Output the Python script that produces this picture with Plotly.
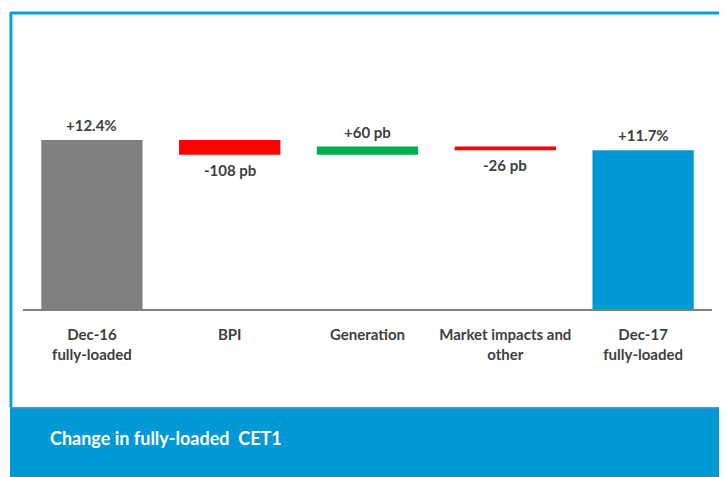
import plotly.graph_objects as go

CATEGORIES = ["Dec-16<br>fully-loaded", "BPI", "Generation", "Market impacts and<br>other", "Dec-17<br>fully-loaded"]
START = 12.4          # CET1 fully-loaded Dec-16, %
DELTAS_BP = [-108, 60, -26]   # changes, bp
LABELS = ["+12.4%", "-108 pb", "+60 pb", "-26 pb", "+11.7%"]

COLORS = {
    "start": "#808080",
    "down": "#FF0000",
    "up": "#00B050",
    "end": "#0099D6",
    "frame": "#0AA0DA",
    "text": "#404040",
}
FONT = "Lato, Calibri, sans-serif"

# build waterfall bases / heights
bases, heights, colors = [0], [START], [COLORS["start"]]
level = START
for d in DELTAS_BP:
    bases.append(level)
    heights.append(d / 100)
    colors.append(COLORS["up"] if d > 0 else COLORS["down"])
    level += d / 100
bases.append(0)
heights.append(level)
colors.append(COLORS["end"])

fig = go.Figure(go.Bar(
    x=CATEGORIES, y=heights, base=bases,
    marker=dict(color=colors, line=dict(width=0)),
    width=0.735, hoverinfo="skip",
))

for cat, b, h, lab in zip(CATEGORIES, bases, heights, LABELS):
    end = b + h
    up = h > 0
    fig.add_annotation(
        x=cat, y=end, text=f"<b>{lab}</b>", showarrow=False,
        yanchor="bottom" if up else "top", yshift=4 if up else -4,
        font=dict(family=FONT, size=15, color=COLORS["text"]),
    )

# frame and bottom banner
fig.add_shape(type="line", xref="paper", yref="paper", x0=-0.0189, x1=1.03, y0=1.416, y1=1.416,
              line=dict(color=COLORS["frame"], width=3), layer="above")
fig.add_shape(type="line", xref="paper", yref="paper", x0=-0.0175, x1=-0.0175, y0=1.42, y1=-0.47,
              line=dict(color=COLORS["frame"], width=3), layer="above")
fig.add_shape(type="rect", xref="paper", yref="paper", x0=-0.0189, x1=1.03, y0=-0.473, y1=-0.805,
              fillcolor="#0099D6", line=dict(width=0), layer="above")
fig.add_shape(type="line", xref="paper", yref="paper", x0=-0.0189, x1=1.03, y0=-0.473, y1=-0.473,
              line=dict(color="#5B8FC9", width=1.5), layer="above")
fig.add_annotation(
    xref="paper", yref="paper", x=0.036, y=-0.615, xanchor="left", yanchor="middle",
    text="<b>Change in fully-loaded  CET1</b>", showarrow=False,
    font=dict(family=FONT, size=18, color="white"),
)

# page body adds 8px margin, so the figure is 8px smaller and shifted
fig.update_layout(
    width=719, height=469,
    margin=dict(l=15, r=15, t=92, b=168),
    paper_bgcolor="white", plot_bgcolor="white",
    showlegend=False,
    font=dict(family=FONT, color=COLORS["text"]),
    xaxis=dict(
        showline=True, linecolor="#808080", linewidth=2,
        showgrid=False, ticks="", ticklabelstandoff=11,
        tickfont=dict(family=FONT, size=15, color=COLORS["text"], weight="bold"),
    ),
    yaxis=dict(visible=False, range=[0, 15.34]),
)

fig.write_html("out.html")
